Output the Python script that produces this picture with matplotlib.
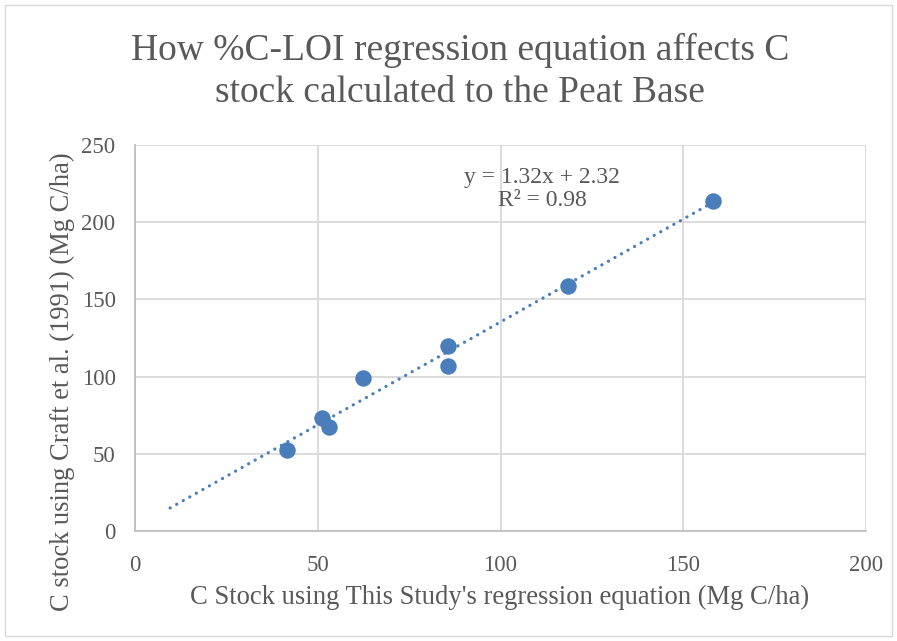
import numpy as np
import matplotlib
matplotlib.use("Agg")
import matplotlib.pyplot as plt
from matplotlib.patches import Rectangle

x_this_study = [41.6, 51.2, 53.1, 62.4, 85.6, 85.6, 118.5, 158.1]
y_craft = [52.5, 73.2, 67.4, 99.1, 119.8, 106.9, 158.7, 213.7]
x_ticks = [0, 50, 100, 150, 200]
y_ticks = [0, 50, 100, 150, 200, 250]
title = "How %C-LOI regression equation affects C\nstock calculated to the Peat Base"
xlabel = "C Stock using This Study's regression equation (Mg C/ha)"
ylabel = "C stock using Craft et al. (1991) (Mg C/ha)"
equation_label = "y = 1.32x + 2.32\nR\u00b2 = 0.98"

plt.rcParams['font.family'] = ['Liberation Serif', 'DejaVu Serif']
txt = '#595959'
blue = '#4A7EBB'

fig = plt.figure(figsize=(8.97, 6.41), dpi=100)
fig.patches.append(Rectangle((5/897, 5/641), 1-10/897, 1-10/641, transform=fig.transFigure,
                             fill=False, edgecolor='#d9d9d9', linewidth=1))
ax = fig.add_axes([135/897, 1-531/641, 731/897, 386/641])

ax.set_xlim(0, 200)
ax.set_ylim(0, 250)
ax.set_xticks(x_ticks)
ax.set_yticks(y_ticks)
ax.grid(True, color='#d9d9d9', linewidth=1.3)
ax.set_axisbelow(True)
for s in ['top', 'right']:
    ax.spines[s].set_visible(False)
for s in ['left', 'bottom']:
    ax.spines[s].set_color('#bfbfbf')
    ax.spines[s].set_linewidth(1.3)
ax.tick_params(length=0, labelsize=16.5, labelcolor=txt)
ax.tick_params(axis='x', pad=17)
ax.tick_params(axis='y', pad=14)

xs = np.array(x_this_study)
ys = np.array(y_craft)
m, b = np.polyfit(xs, ys, 1)
xl = np.array([xs.min() - 32, xs.max() + 3.5])
ax.plot(xl, m * xl + b, color=blue, linewidth=2.3, linestyle=(0, (0.05, 2.3)),
        dash_capstyle='round', zorder=2)
ax.scatter(xs, ys, s=140, color=blue, zorder=3, linewidths=0)

ax.text(111.4, 221.5, equation_label, ha='center', va='center',
        fontsize=17, color=txt, linespacing=1.17)

fig.text(460/897, 1-71.5/641, title, ha='center', va='center', fontsize=27, color=txt, linespacing=1.3)
fig.text(500/897, 1-597/641, xlabel, ha='center', va='center', fontsize=19.2, color=txt)
fig.text(62/897, 1-382/641, ylabel, ha='center', va='center', rotation=90, fontsize=19.1, color=txt)

fig.savefig("out.png", dpi=100)
